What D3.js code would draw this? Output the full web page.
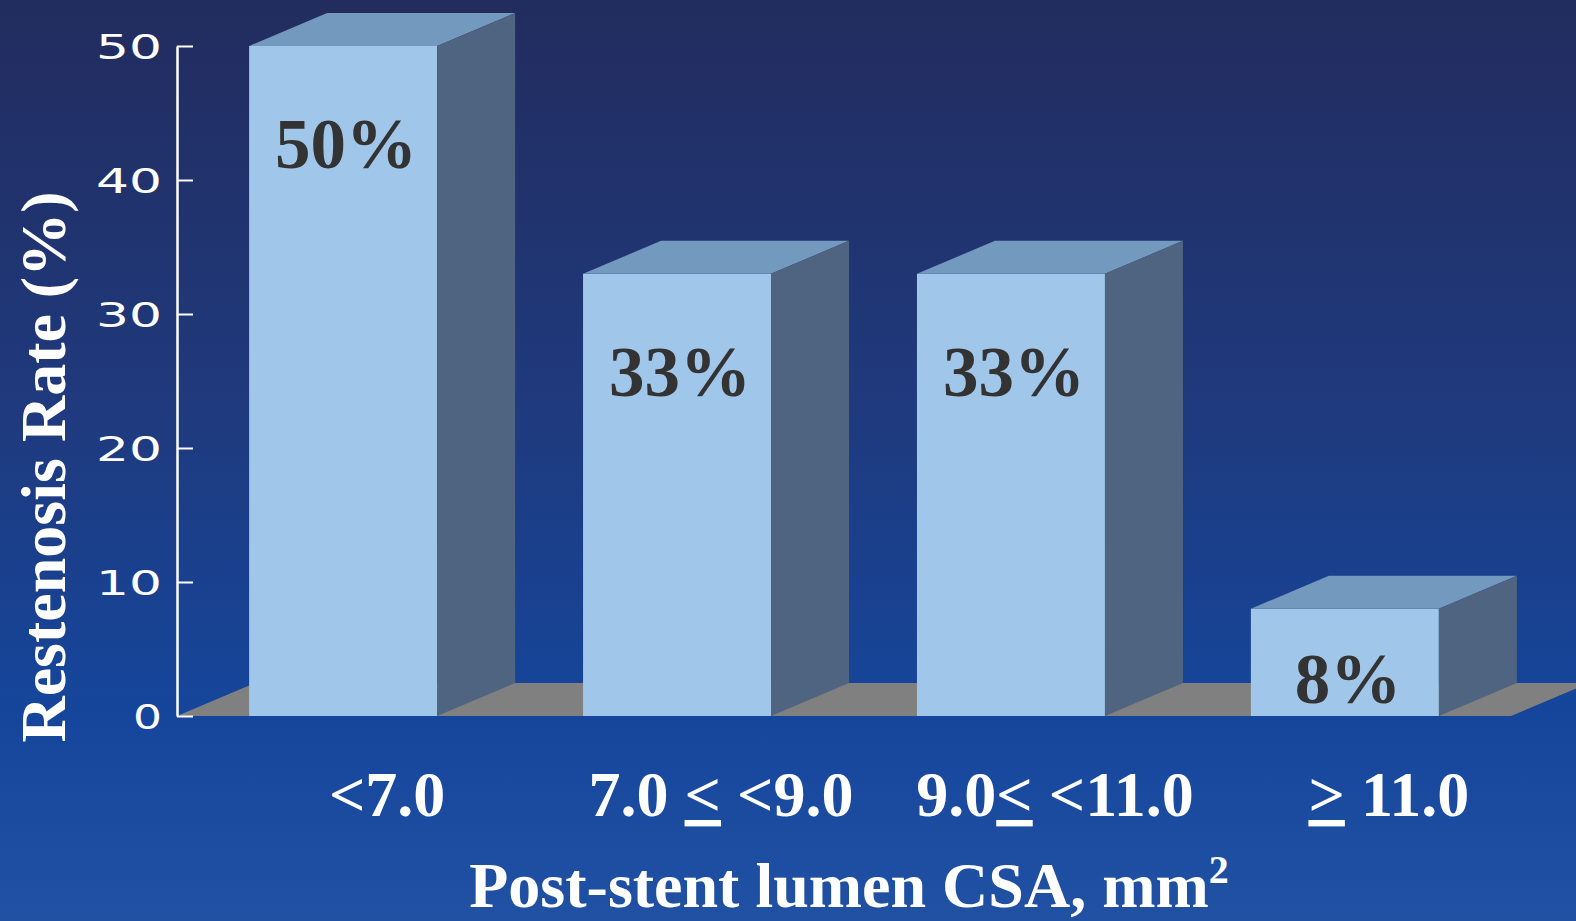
<!DOCTYPE html>
<html>
<head>
<meta charset="utf-8">
<script src="https://cdn.jsdelivr.net/npm/d3@7"></script>
<style>
  html, body { margin: 0; padding: 0; background: #1e3f88; }
  svg { display: block; }
</style>
</head>
<body>
<svg id="chart" width="1576" height="921"></svg>
<script>
// Restenosis rate by post-stent lumen CSA group
const categories = ["<7.0", "7.0 \u2264 <9.0", "9.0\u2264 <11.0", "\u2265 11.0"];
const restenosisRate = [50, 33, 33, 8];
const yTicks = [0, 10, 20, 30, 40, 50];

const W = 1576, H = 921;
const svg = d3.select("#chart");

// Background gradient
const defs = svg.append("defs");
const grad = defs.append("linearGradient")
  .attr("id", "bg").attr("x1", 0).attr("y1", 0).attr("x2", 0).attr("y2", 1);
grad.append("stop").attr("offset", "0%").attr("stop-color", "#222c5e");
grad.append("stop").attr("offset", "45%").attr("stop-color", "#1f3a7e");
grad.append("stop").attr("offset", "78%").attr("stop-color", "#15469c");
grad.append("stop").attr("offset", "100%").attr("stop-color", "#2051a3");
svg.append("rect").attr("width", W).attr("height", H).attr("fill", "url(#bg)");

// Scales
const x = d3.scaleBand()
  .domain(categories)
  .range([177, 1511])
  .paddingInner(0.437)
  .paddingOuter(0.216);
const y = d3.scaleLinear().domain([0, 50]).range([716, 46]);
const y0 = y(0);
const depth = { dx: 78, dy: -33 };
const bw = x.bandwidth();

// Floor
const [fx0, fx1] = x.range();
svg.append("polygon")
  .attr("points", [
    [fx0, y0], [fx1, y0], [fx1 + depth.dx, y0 + depth.dy], [fx0 + depth.dx, y0 + depth.dy]
  ].map(p => p.join(",")).join(" "))
  .attr("fill", "#808080");

// 3D bars
const bars = svg.append("g").selectAll("g")
  .data(categories.map((c, i) => ({ c, v: restenosisRate[i] })))
  .join("g");

bars.append("rect")
  .attr("x", d => x(d.c))
  .attr("y", d => y(d.v))
  .attr("width", bw)
  .attr("height", d => y0 - y(d.v))
  .attr("fill", "#a0c6ea");

bars.append("polygon")
  .attr("points", d => {
    const x1 = x(d.c), yt = y(d.v);
    return [[x1, yt], [x1 + depth.dx, yt + depth.dy], [x1 + bw + depth.dx, yt + depth.dy], [x1 + bw, yt]]
      .map(p => p.join(",")).join(" ");
  })
  .attr("fill", "#7399be");

bars.append("polygon")
  .attr("points", d => {
    const xr = x(d.c) + bw, yt = y(d.v);
    return [[xr, yt], [xr + depth.dx, yt + depth.dy], [xr + depth.dx, y0 + depth.dy], [xr, y0]]
      .map(p => p.join(",")).join(" ");
  })
  .attr("fill", "#4e6480");

// Value labels
bars.append("text")
  .attr("x", d => x(d.c) + bw / 2 + 3)
  .attr("y", d => Math.min(y(d.v) + 122, y0 - 13))
  .attr("text-anchor", "middle")
  .attr("font-family", "'Liberation Serif', 'Times New Roman', serif")
  .attr("font-weight", "bold")
  .attr("font-size", 71)
  .attr("fill", "#333333")
  .text(d => d.v + "%");

// Y axis
const yAxis = d3.axisLeft(y)
  .tickValues(yTicks)
  .tickSizeInner(-16)
  .tickSizeOuter(0)
  .tickPadding(15);
const ga = svg.append("g").attr("transform", "translate(177,0)").call(yAxis);
ga.select(".domain").attr("stroke", "#ffffff").attr("stroke-width", 2.5);
ga.selectAll(".tick line").attr("stroke", "#ffffff").attr("stroke-width", 2);
ga.selectAll(".tick text")
  .attr("fill", "#ffffff")
  .attr("font-family", "'DejaVu Sans', sans-serif")
  .attr("font-size", 34)
  .attr("dy", "0.36em")
  .attr("textLength", d => String(d).length === 1 ? 29 : 66)
  .attr("lengthAdjust", "spacingAndGlyphs");

// Category labels; comparison signs are drawn as underlined < and >
const catG = svg.append("g");
categories.forEach(c => {
  const t = catG.append("text")
    .attr("x", x(c) + bw / 2 + depth.dx / 2 + 5)
    .attr("y", 816)
    .attr("text-anchor", "middle")
    .attr("font-family", "'Liberation Serif', 'Times New Roman', serif")
    .attr("font-weight", "bold")
    .attr("font-size", 64)
    .attr("fill", "#ffffff");
  const parts = c.split(/([\u2264\u2265])/);
  parts.forEach(p => {
    if (p === "\u2264" || p === "\u2265") {
      t.append("tspan")
        .attr("text-decoration", "underline")
        .style("text-decoration", "underline")
        .text(p === "\u2264" ? "<" : ">");
    } else if (p.length) {
      t.append("tspan").text(p);
    }
  });
});

// Axis titles
svg.append("text")
  .attr("transform", "translate(65,467) rotate(-90)")
  .attr("text-anchor", "middle")
  .attr("font-family", "'Liberation Serif', 'Times New Roman', serif")
  .attr("font-weight", "bold")
  .attr("font-size", 64)
  .attr("fill", "#ffffff")
  .text("Restenosis Rate (%)");

const xt = svg.append("text")
  .attr("x", 849)
  .attr("y", 907)
  .attr("text-anchor", "middle")
  .attr("font-family", "'Liberation Serif', 'Times New Roman', serif")
  .attr("font-weight", "bold")
  .attr("font-size", 64)
  .attr("fill", "#ffffff");
xt.append("tspan").text("Post-stent lumen CSA, mm");
xt.append("tspan").attr("font-size", 40).attr("dy", -24).text("2");
</script>
</body>
</html>
